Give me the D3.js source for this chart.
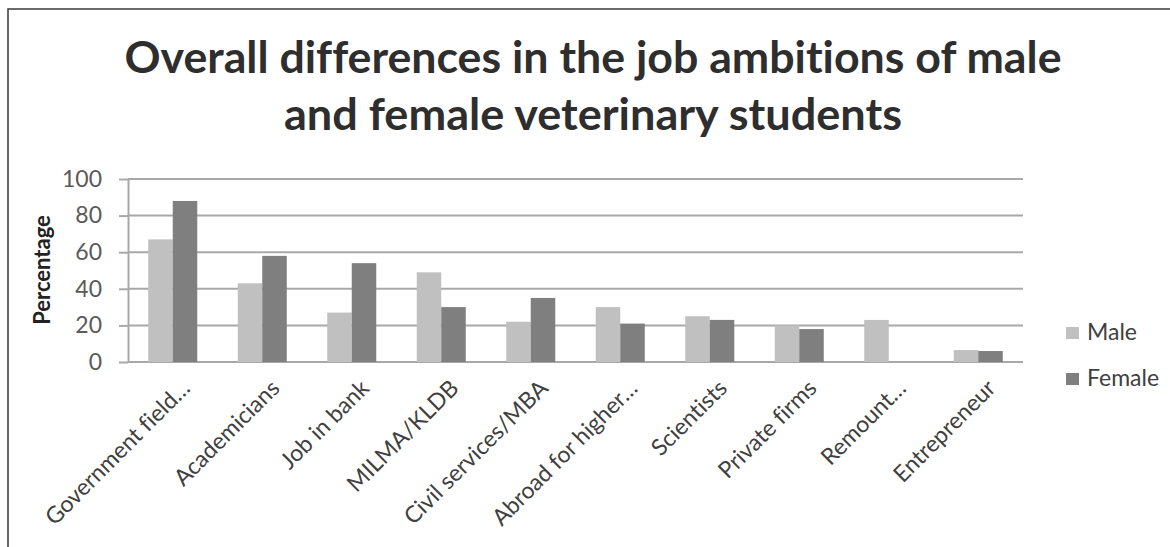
<!DOCTYPE html>
<html>
<head>
<meta charset="utf-8">
<script src="https://cdn.jsdelivr.net/npm/d3@7"></script>
<style>
  body { margin: 0; background: #fff; }
  svg { display: block; font-family: Lato, "Open Sans", sans-serif; font-variant-ligatures: none; }
</style>
</head>
<body>
<svg width="1170" height="547"></svg>
<script>
var categories = ["Government field\u2026", "Academicians", "Job in bank", "MILMA/KLDB",
    "Civil services/MBA", "Abroad for higher\u2026", "Scientists", "Private firms",
    "Remount\u2026", "Entrepreneur"];
var seriesNames = ["Male", "Female"];
var maleValues = [67, 43, 27, 49, 22, 30, 25, 20, 23, 6.5];
var femaleValues = [88, 58, 54, 30, 35, 21, 23, 18, 0, 6];
var yTicks = [0, 20, 40, 60, 80, 100];
var titleLines = ["Overall differences in the job ambitions of male", "and female veterinary students"];

d3.select(window).on('load', init);

function init() {
    var svg = d3.select('svg');
    var colors = {Male: "#c0c0c0", Female: "#7f7f7f"};

    var data = categories.map(function(c, i) {
        return {cat: c, Male: maleValues[i], Female: femaleValues[i]};
    });

    // outer chart frame (runs off the right and bottom edges)
    svg.append("rect")
        .attr("x", 8).attr("y", 9)
        .attr("width", 1200).attr("height", 600)
        .attr("fill", "#fff")
        .attr("stroke", "#3a3a3a")
        .attr("stroke-width", 1.5);

    // title
    svg.selectAll(".title")
        .data(titleLines)
        .enter().append("text")
        .attr("class", "title")
        .attr("x", 593)
        .attr("y", function(d, i) { return 73 + i * 57; })
        .attr("text-anchor", "middle")
        .attr("textLength", function(d, i) { return i === 0 ? 937 : 618; })
        .attr("lengthAdjust", "spacingAndGlyphs")
        .style("font-size", "44px")
        .style("font-weight", "bold")
        .attr("fill", "#2e2e2e")
        .text(function(d) { return d; });

    var x = d3.scaleBand().range([128, 1023]).domain(categories);
    var x1 = d3.scaleBand().domain(seriesNames).range([0, x.bandwidth()]).paddingOuter(0.826);
    var y = d3.scaleLinear().range([362, 179]).domain([0, 100]);

    // gridlines
    svg.append("g")
        .selectAll("line")
        .data(yTicks)
        .enter().append("line")
        .attr("x1", 128).attr("x2", 1023)
        .attr("y1", function(d) { return y(d); })
        .attr("y2", function(d) { return y(d); })
        .attr("stroke", "#a8a8a8")
        .attr("stroke-width", 2);

    // y axis
    var yAxis = svg.append("g")
        .attr("transform", "translate(128,0)")
        .call(d3.axisLeft(y).tickValues(yTicks).tickSize(9).tickPadding(17).tickSizeOuter(0));
    yAxis.select(".domain").attr("stroke", "#a8a8a8").attr("stroke-width", 2);
    yAxis.selectAll(".tick line").attr("stroke", "#a8a8a8").attr("stroke-width", 2);
    yAxis.selectAll(".tick text")
        .style("font-size", "23px")
        .style("font-family", "Lato, sans-serif")
        .attr("fill", "#5a5a5a");

    // bars
    var groups = svg.append("g")
        .selectAll("g")
        .data(data)
        .enter().append("g")
        .attr("transform", function(d) { return "translate(" + x(d.cat) + ",0)"; });

    groups.selectAll("rect")
        .data(function(d) { return seriesNames.map(function(s) { return {key: s, value: d[s]}; }); })
        .enter().append("rect")
        .attr("x", function(d) { return x1(d.key); })
        .attr("y", function(d) { return y(d.value); })
        .attr("width", x1.bandwidth())
        .attr("height", function(d) { return y(0) - y(d.value); })
        .attr("fill", function(d) { return colors[d.key]; });

    // x axis labels, rotated
    var xAxis = svg.append("g")
        .attr("transform", "translate(0,362)")
        .call(d3.axisBottom(x).tickSize(0).tickPadding(0));
    xAxis.select(".domain").remove();
    xAxis.selectAll(".tick text")
        .style("font-size", "23px")
        .style("font-family", "Lato, sans-serif")
        .attr("fill", "#404040")
        .attr("text-anchor", "end")
        .attr("dy", "0.35em")
        .attr("transform", "translate(13,22) rotate(-45)");

    // y axis title
    svg.append("text")
        .attr("transform", "translate(50,270) rotate(-90)")
        .attr("text-anchor", "middle")
        .style("font-size", "22px")
        .style("font-weight", "bold")
        .attr("fill", "#222")
        .text("Percentage");

    // legend
    var legend = svg.append("g")
        .selectAll("g")
        .data(seriesNames)
        .enter().append("g")
        .attr("transform", function(d, i) { return "translate(1066," + (327 + i * 46) + ")"; });
    legend.append("rect")
        .attr("width", 13).attr("height", 12)
        .attr("fill", function(d) { return colors[d]; });
    legend.append("text")
        .attr("x", 21).attr("y", 13)
        .style("font-size", "23px")
        .attr("fill", "#404040")
        .text(function(d) { return d; });
}
</script>
</body>
</html>
